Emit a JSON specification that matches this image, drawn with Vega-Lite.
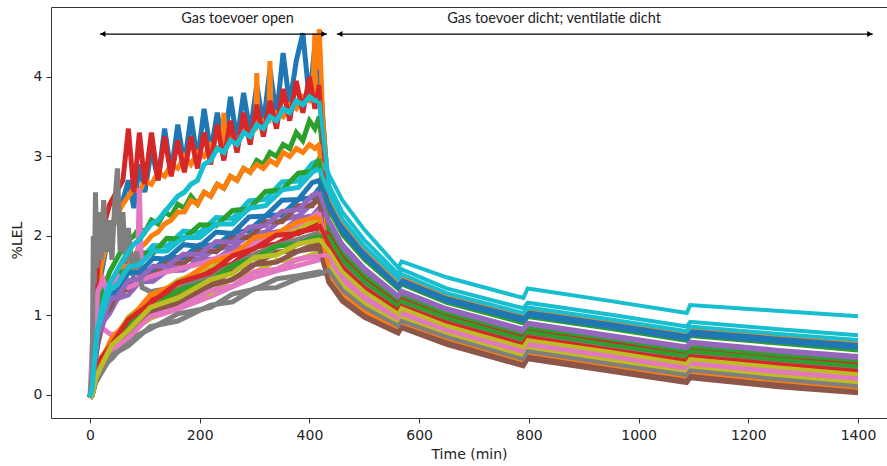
{
"$schema":"https://vega.github.io/schema/vega-lite/v6.json",
"width":836,"height":411,
"autosize":{"type":"none"},
"padding":{"left":51,"top":7,"right":0,"bottom":48},
"config":{"view":{"stroke":null},"font":"DejaVu Sans",
"axis":{"grid":false,"domainColor":"#333","domainWidth":1,"tickColor":"#333","tickSize":5,"labelColor":"#222","labelFontSize":14,"titleFontSize":14,"titleFontWeight":"normal","titleColor":"#222","labelFont":"DejaVu Sans","titleFont":"DejaVu Sans"}},
"datasets":{
"lines":[
{"s":0,"t":0,"v":-0.03},{"s":0,"t":4,"v":0.1},{"s":0,"t":8,"v":0.6},{"s":0,"t":14,"v":1.1},{"s":0,"t":20,"v":1.5},{"s":0,"t":28,"v":1.8},{"s":0,"t":36,"v":2.0},{"s":0,"t":44,"v":2.2},{"s":0,"t":52,"v":2.35},{"s":0,"t":60,"v":2.45},{"s":0,"t":70,"v":2.7},{"s":0,"t":80,"v":2.35},{"s":0,"t":90,"v":2.9},{"s":0,"t":100,"v":2.55},{"s":0,"t":112,"v":3.1},{"s":0,"t":124,"v":2.7},{"s":0,"t":136,"v":3.35},{"s":0,"t":148,"v":2.8},{"s":0,"t":160,"v":3.4},{"s":0,"t":172,"v":2.9},{"s":0,"t":184,"v":3.5},{"s":0,"t":196,"v":2.95},{"s":0,"t":208,"v":3.6},{"s":0,"t":220,"v":3.05},{"s":0,"t":232,"v":3.55},{"s":0,"t":244,"v":3.1},{"s":0,"t":256,"v":3.75},{"s":0,"t":268,"v":3.2},{"s":0,"t":280,"v":3.8},{"s":0,"t":292,"v":3.3},{"s":0,"t":304,"v":3.9},{"s":0,"t":316,"v":3.4},{"s":0,"t":328,"v":4.1},{"s":0,"t":340,"v":3.5},{"s":0,"t":352,"v":4.3},{"s":0,"t":364,"v":3.65},{"s":0,"t":376,"v":4.2},{"s":0,"t":388,"v":4.55},{"s":0,"t":400,"v":3.7},{"s":0,"t":410,"v":4.4},{"s":0,"t":418,"v":4.1},
{"s":0,"t":435,"v":2.46},{"s":0,"t":460,"v":2.13},{"s":0,"t":500,"v":1.8},{"s":0,"t":562,"v":1.4},{"s":0,"t":568,"v":1.47},{"s":0,"t":650,"v":1.23},{"s":0,"t":790,"v":0.98},{"s":0,"t":798,"v":1.05},{"s":0,"t":950,"v":0.9},{"s":0,"t":1088,"v":0.75},{"s":0,"t":1094,"v":0.81},{"s":0,"t":1250,"v":0.72},{"s":0,"t":1400,"v":0.64},
{"s":1,"t":0,"v":-0.02},{"s":1,"t":4,"v":0.15},{"s":1,"t":8,"v":0.8},{"s":1,"t":14,"v":1.3},{"s":1,"t":20,"v":1.6},{"s":1,"t":28,"v":1.85},{"s":1,"t":36,"v":2.0},{"s":1,"t":44,"v":2.15},{"s":1,"t":52,"v":2.3},{"s":1,"t":60,"v":2.4},{"s":1,"t":70,"v":2.5},{"s":1,"t":80,"v":2.6},{"s":1,"t":90,"v":2.55},{"s":1,"t":100,"v":2.7},{"s":1,"t":112,"v":2.65},{"s":1,"t":124,"v":2.8},{"s":1,"t":136,"v":2.75},{"s":1,"t":148,"v":2.9},{"s":1,"t":160,"v":2.85},{"s":1,"t":172,"v":3.0},{"s":1,"t":184,"v":2.9},{"s":1,"t":196,"v":3.05},{"s":1,"t":208,"v":3.0},{"s":1,"t":220,"v":3.15},{"s":1,"t":232,"v":3.1},{"s":1,"t":242,"v":3.15},{"s":1,"t":244,"v":3.55},{"s":1,"t":246,"v":3.15},{"s":1,"t":256,"v":3.25},{"s":1,"t":268,"v":3.2},{"s":1,"t":280,"v":3.35},{"s":1,"t":292,"v":3.3},{"s":1,"t":302,"v":3.35},{"s":1,"t":304,"v":4.05},{"s":1,"t":306,"v":3.4},{"s":1,"t":316,"v":3.45},{"s":1,"t":326,"v":3.45},{"s":1,"t":328,"v":4.2},{"s":1,"t":330,"v":3.5},{"s":1,"t":340,"v":3.55},{"s":1,"t":352,"v":3.5},{"s":1,"t":364,"v":3.65},{"s":1,"t":376,"v":3.6},{"s":1,"t":388,"v":3.75},{"s":1,"t":400,"v":3.7},{"s":1,"t":406,"v":3.75},{"s":1,"t":410,"v":4.55},{"s":1,"t":413,"v":3.8},{"s":1,"t":418,"v":4.6},{"s":1,"t":424,"v":3.5},
{"s":1,"t":435,"v":2.52},{"s":1,"t":460,"v":2.19},{"s":1,"t":500,"v":1.85},{"s":1,"t":562,"v":1.44},{"s":1,"t":568,"v":1.5},{"s":1,"t":650,"v":1.27},{"s":1,"t":790,"v":1.02},{"s":1,"t":798,"v":1.09},{"s":1,"t":950,"v":0.94},{"s":1,"t":1088,"v":0.79},{"s":1,"t":1094,"v":0.85},{"s":1,"t":1250,"v":0.76},{"s":1,"t":1400,"v":0.68},
{"s":2,"t":0,"v":-0.02},{"s":2,"t":4,"v":0.1},{"s":2,"t":8,"v":0.5},{"s":2,"t":14,"v":0.9},{"s":2,"t":20,"v":1.2},{"s":2,"t":28,"v":1.4},{"s":2,"t":36,"v":1.55},{"s":2,"t":44,"v":1.65},{"s":2,"t":52,"v":1.75},{"s":2,"t":60,"v":1.85},{"s":2,"t":70,"v":1.95},{"s":2,"t":80,"v":2.0},{"s":2,"t":90,"v":2.1},{"s":2,"t":100,"v":2.05},{"s":2,"t":112,"v":2.2},{"s":2,"t":124,"v":2.15},{"s":2,"t":136,"v":2.3},{"s":2,"t":148,"v":2.25},{"s":2,"t":160,"v":2.4},{"s":2,"t":172,"v":2.35},{"s":2,"t":184,"v":2.5},{"s":2,"t":196,"v":2.4},{"s":2,"t":208,"v":2.55},{"s":2,"t":220,"v":2.5},{"s":2,"t":232,"v":2.65},{"s":2,"t":244,"v":2.6},{"s":2,"t":256,"v":2.75},{"s":2,"t":268,"v":2.7},{"s":2,"t":280,"v":2.85},{"s":2,"t":292,"v":2.8},{"s":2,"t":304,"v":2.95},{"s":2,"t":316,"v":2.9},{"s":2,"t":328,"v":3.05},{"s":2,"t":340,"v":3.0},{"s":2,"t":352,"v":3.15},{"s":2,"t":364,"v":3.1},{"s":2,"t":376,"v":3.3},{"s":2,"t":388,"v":3.2},{"s":2,"t":400,"v":3.45},{"s":2,"t":410,"v":3.35},{"s":2,"t":418,"v":3.5},
{"s":2,"t":435,"v":2.33},{"s":2,"t":460,"v":2.01},{"s":2,"t":500,"v":1.7},{"s":2,"t":562,"v":1.33},{"s":2,"t":568,"v":1.39},{"s":2,"t":650,"v":1.16},{"s":2,"t":790,"v":0.9},{"s":2,"t":798,"v":0.98},{"s":2,"t":950,"v":0.83},{"s":2,"t":1088,"v":0.68},{"s":2,"t":1094,"v":0.74},{"s":2,"t":1250,"v":0.65},{"s":2,"t":1400,"v":0.56},
{"s":3,"t":0,"v":-0.03},{"s":3,"t":4,"v":0.2},{"s":3,"t":8,"v":1.0},{"s":3,"t":14,"v":1.6},{"s":3,"t":20,"v":2.0},{"s":3,"t":28,"v":2.2},{"s":3,"t":36,"v":2.4},{"s":3,"t":44,"v":2.5},{"s":3,"t":52,"v":2.6},{"s":3,"t":60,"v":2.7},{"s":3,"t":70,"v":3.35},{"s":3,"t":80,"v":2.55},{"s":3,"t":90,"v":3.3},{"s":3,"t":100,"v":2.65},{"s":3,"t":112,"v":3.3},{"s":3,"t":124,"v":2.7},{"s":3,"t":136,"v":3.25},{"s":3,"t":148,"v":2.75},{"s":3,"t":160,"v":3.2},{"s":3,"t":172,"v":2.8},{"s":3,"t":184,"v":3.25},{"s":3,"t":196,"v":2.85},{"s":3,"t":208,"v":3.3},{"s":3,"t":220,"v":2.9},{"s":3,"t":232,"v":3.4},{"s":3,"t":244,"v":2.95},{"s":3,"t":256,"v":3.45},{"s":3,"t":268,"v":3.05},{"s":3,"t":280,"v":3.55},{"s":3,"t":292,"v":3.15},{"s":3,"t":304,"v":3.65},{"s":3,"t":316,"v":3.25},{"s":3,"t":328,"v":3.7},{"s":3,"t":340,"v":3.35},{"s":3,"t":352,"v":3.85},{"s":3,"t":364,"v":3.45},{"s":3,"t":376,"v":3.95},{"s":3,"t":388,"v":3.55},{"s":3,"t":400,"v":4.0},{"s":3,"t":410,"v":3.6},{"s":3,"t":418,"v":3.9},
{"s":3,"t":435,"v":1.95},{"s":3,"t":460,"v":1.67},{"s":3,"t":500,"v":1.4},{"s":3,"t":562,"v":1.1},{"s":3,"t":568,"v":1.16},{"s":3,"t":650,"v":0.94},{"s":3,"t":790,"v":0.68},{"s":3,"t":798,"v":0.76},{"s":3,"t":950,"v":0.61},{"s":3,"t":1088,"v":0.46},{"s":3,"t":1094,"v":0.52},{"s":3,"t":1250,"v":0.42},{"s":3,"t":1400,"v":0.34},
{"s":4,"t":0,"v":-0.03},{"s":4,"t":4,"v":0.07},{"s":4,"t":8,"v":0.37},{"s":4,"t":14,"v":0.72},{"s":4,"t":24,"v":0.9},{"s":4,"t":36,"v":1.13},{"s":4,"t":50,"v":1.2},{"s":4,"t":70,"v":1.38},{"s":4,"t":90,"v":1.42},{"s":4,"t":115,"v":1.55},{"s":4,"t":140,"v":1.56},{"s":4,"t":170,"v":1.7},{"s":4,"t":200,"v":1.71},{"s":4,"t":230,"v":1.84},{"s":4,"t":260,"v":1.86},{"s":4,"t":290,"v":2.01},{"s":4,"t":320,"v":2.05},{"s":4,"t":350,"v":2.21},{"s":4,"t":380,"v":2.25},{"s":4,"t":405,"v":2.41},{"s":4,"t":418,"v":2.45},
{"s":4,"t":435,"v":2.14},{"s":4,"t":460,"v":1.84},{"s":4,"t":500,"v":1.55},{"s":4,"t":562,"v":1.21},{"s":4,"t":568,"v":1.28},{"s":4,"t":650,"v":1.05},{"s":4,"t":790,"v":0.79},{"s":4,"t":798,"v":0.87},{"s":4,"t":950,"v":0.72},{"s":4,"t":1088,"v":0.57},{"s":4,"t":1094,"v":0.63},{"s":4,"t":1250,"v":0.53},{"s":4,"t":1400,"v":0.45},
{"s":5,"t":0,"v":-0.04},{"s":5,"t":4,"v":0},{"s":5,"t":10,"v":0.19},{"s":5,"t":20,"v":0.41},{"s":5,"t":40,"v":0.57},{"s":5,"t":70,"v":0.86},{"s":5,"t":110,"v":1.03},{"s":5,"t":160,"v":1.26},{"s":5,"t":220,"v":1.37},{"s":5,"t":260,"v":1.57},{"s":5,"t":300,"v":1.64},{"s":5,"t":340,"v":1.8},{"s":5,"t":380,"v":1.81},{"s":5,"t":418,"v":1.92},
{"s":5,"t":435,"v":1.48},{"s":5,"t":460,"v":1.24},{"s":5,"t":500,"v":1.03},{"s":5,"t":562,"v":0.81},{"s":5,"t":568,"v":0.88},{"s":5,"t":650,"v":0.68},{"s":5,"t":790,"v":0.4},{"s":5,"t":798,"v":0.5},{"s":5,"t":950,"v":0.34},{"s":5,"t":1088,"v":0.2},{"s":5,"t":1094,"v":0.26},{"s":5,"t":1250,"v":0.15},{"s":5,"t":1400,"v":0.06},
{"s":6,"t":0,"v":-0.03},{"s":6,"t":4,"v":0.6},{"s":6,"t":10,"v":1.1},{"s":6,"t":20,"v":0.85},{"s":6,"t":40,"v":0.75},{"s":6,"t":70,"v":0.85},{"s":6,"t":110,"v":0.97},{"s":6,"t":160,"v":1.08},{"s":6,"t":220,"v":1.24},{"s":6,"t":260,"v":1.36},{"s":6,"t":300,"v":1.48},{"s":6,"t":340,"v":1.56},{"s":6,"t":380,"v":1.63},{"s":6,"t":418,"v":1.7},
{"s":6,"t":435,"v":1.7},{"s":6,"t":460,"v":1.44},{"s":6,"t":500,"v":1.2},{"s":6,"t":562,"v":0.94},{"s":6,"t":568,"v":1.01},{"s":6,"t":650,"v":0.8},{"s":6,"t":790,"v":0.53},{"s":6,"t":798,"v":0.62},{"s":6,"t":950,"v":0.46},{"s":6,"t":1088,"v":0.32},{"s":6,"t":1094,"v":0.38},{"s":6,"t":1250,"v":0.28},{"s":6,"t":1400,"v":0.19},
{"s":7,"t":0,"v":-0.03},{"s":7,"t":4,"v":0},{"s":7,"t":10,"v":0.16},{"s":7,"t":20,"v":0.34},{"s":7,"t":40,"v":0.46},{"s":7,"t":70,"v":0.7},{"s":7,"t":110,"v":0.83},{"s":7,"t":160,"v":1.02},{"s":7,"t":220,"v":1.1},{"s":7,"t":260,"v":1.27},{"s":7,"t":300,"v":1.33},{"s":7,"t":340,"v":1.46},{"s":7,"t":380,"v":1.5},{"s":7,"t":418,"v":1.55},
{"s":7,"t":435,"v":1.51},{"s":7,"t":460,"v":1.27},{"s":7,"t":500,"v":1.05},{"s":7,"t":562,"v":0.83},{"s":7,"t":568,"v":0.9},{"s":7,"t":650,"v":0.69},{"s":7,"t":790,"v":0.42},{"s":7,"t":798,"v":0.51},{"s":7,"t":950,"v":0.35},{"s":7,"t":1088,"v":0.21},{"s":7,"t":1094,"v":0.27},{"s":7,"t":1250,"v":0.16},{"s":7,"t":1400,"v":0.08},
{"s":8,"t":0,"v":-0.04},{"s":8,"t":4,"v":0},{"s":8,"t":10,"v":0.22},{"s":8,"t":20,"v":0.47},{"s":8,"t":40,"v":0.66},{"s":8,"t":70,"v":0.98},{"s":8,"t":110,"v":1.19},{"s":8,"t":160,"v":1.44},{"s":8,"t":220,"v":1.59},{"s":8,"t":260,"v":1.79},{"s":8,"t":300,"v":1.89},{"s":8,"t":340,"v":2.05},{"s":8,"t":380,"v":2.09},{"s":8,"t":418,"v":2.2},
{"s":8,"t":435,"v":1.86},{"s":8,"t":460,"v":1.59},{"s":8,"t":500,"v":1.33},{"s":8,"t":562,"v":1.04},{"s":8,"t":568,"v":1.11},{"s":8,"t":650,"v":0.89},{"s":8,"t":790,"v":0.63},{"s":8,"t":798,"v":0.71},{"s":8,"t":950,"v":0.56},{"s":8,"t":1088,"v":0.41},{"s":8,"t":1094,"v":0.47},{"s":8,"t":1250,"v":0.37},{"s":8,"t":1400,"v":0.29},
{"s":9,"t":0,"v":-0.03},{"s":9,"t":4,"v":0.09},{"s":9,"t":8,"v":0.44},{"s":9,"t":14,"v":0.88},{"s":9,"t":24,"v":1.07},{"s":9,"t":36,"v":1.38},{"s":9,"t":50,"v":1.43},{"s":9,"t":70,"v":1.67},{"s":9,"t":90,"v":1.69},{"s":9,"t":115,"v":1.88},{"s":9,"t":140,"v":1.87},{"s":9,"t":170,"v":2.06},{"s":9,"t":200,"v":2.04},{"s":9,"t":230,"v":2.23},{"s":9,"t":260,"v":2.22},{"s":9,"t":290,"v":2.44},{"s":9,"t":320,"v":2.46},{"s":9,"t":350,"v":2.68},{"s":9,"t":380,"v":2.69},{"s":9,"t":405,"v":2.91},{"s":9,"t":418,"v":2.95},
{"s":9,"t":435,"v":2.78},{"s":9,"t":460,"v":2.45},{"s":9,"t":500,"v":2.08},{"s":9,"t":562,"v":1.6},{"s":9,"t":568,"v":1.68},{"s":9,"t":650,"v":1.48},{"s":9,"t":790,"v":1.22},{"s":9,"t":798,"v":1.34},{"s":9,"t":950,"v":1.18},{"s":9,"t":1088,"v":1.03},{"s":9,"t":1094,"v":1.13},{"s":9,"t":1250,"v":1.06},{"s":9,"t":1400,"v":0.99},
{"s":10,"t":0,"v":-0.03},{"s":10,"t":4,"v":0.08},{"s":10,"t":8,"v":0.39},{"s":10,"t":14,"v":0.69},{"s":10,"t":24,"v":1.03},{"s":10,"t":36,"v":1.13},{"s":10,"t":50,"v":1.34},{"s":10,"t":70,"v":1.39},{"s":10,"t":90,"v":1.57},{"s":10,"t":115,"v":1.57},{"s":10,"t":140,"v":1.73},{"s":10,"t":170,"v":1.73},{"s":10,"t":200,"v":1.89},{"s":10,"t":230,"v":1.88},{"s":10,"t":260,"v":2.04},{"s":10,"t":290,"v":2.07},{"s":10,"t":320,"v":2.25},{"s":10,"t":350,"v":2.27},{"s":10,"t":380,"v":2.46},{"s":10,"t":405,"v":2.48},{"s":10,"t":418,"v":2.6},
{"s":10,"t":435,"v":2.4},{"s":10,"t":460,"v":2.07},{"s":10,"t":500,"v":1.75},{"s":10,"t":562,"v":1.37},{"s":10,"t":568,"v":1.43},{"s":10,"t":650,"v":1.2},{"s":10,"t":790,"v":0.94},{"s":10,"t":798,"v":1.02},{"s":10,"t":950,"v":0.86},{"s":10,"t":1088,"v":0.72},{"s":10,"t":1094,"v":0.78},{"s":10,"t":1250,"v":0.68},{"s":10,"t":1400,"v":0.6},
{"s":11,"t":0,"v":-0.02},{"s":11,"t":4,"v":0.06},{"s":11,"t":8,"v":0.35},{"s":11,"t":14,"v":0.7},{"s":11,"t":20,"v":0.95},{"s":11,"t":28,"v":1.15},{"s":11,"t":36,"v":1.3},{"s":11,"t":44,"v":1.4},{"s":11,"t":52,"v":1.5},{"s":11,"t":60,"v":1.6},{"s":11,"t":70,"v":1.7},{"s":11,"t":80,"v":1.75},{"s":11,"t":90,"v":1.85},{"s":11,"t":100,"v":1.9},{"s":11,"t":112,"v":2.0},{"s":11,"t":124,"v":2.05},{"s":11,"t":136,"v":2.15},{"s":11,"t":148,"v":2.2},{"s":11,"t":160,"v":2.3},{"s":11,"t":172,"v":2.3},{"s":11,"t":184,"v":2.45},{"s":11,"t":196,"v":2.4},{"s":11,"t":208,"v":2.55},{"s":11,"t":220,"v":2.5},{"s":11,"t":232,"v":2.65},{"s":11,"t":244,"v":2.6},{"s":11,"t":256,"v":2.75},{"s":11,"t":268,"v":2.7},{"s":11,"t":280,"v":2.85},{"s":11,"t":292,"v":2.8},{"s":11,"t":304,"v":2.9},{"s":11,"t":316,"v":2.85},{"s":11,"t":328,"v":2.95},{"s":11,"t":340,"v":2.9},{"s":11,"t":352,"v":3.05},{"s":11,"t":364,"v":3.0},{"s":11,"t":376,"v":3.1},{"s":11,"t":388,"v":3.05},{"s":11,"t":400,"v":3.15},{"s":11,"t":410,"v":3.1},{"s":11,"t":418,"v":3.15},
{"s":11,"t":435,"v":1.57},{"s":11,"t":460,"v":1.32},{"s":11,"t":500,"v":1.1},{"s":11,"t":562,"v":0.87},{"s":11,"t":568,"v":0.93},{"s":11,"t":650,"v":0.73},{"s":11,"t":790,"v":0.45},{"s":11,"t":798,"v":0.55},{"s":11,"t":950,"v":0.39},{"s":11,"t":1088,"v":0.25},{"s":11,"t":1094,"v":0.31},{"s":11,"t":1250,"v":0.2},{"s":11,"t":1400,"v":0.11},
{"s":12,"t":0,"v":-0.03},{"s":12,"t":4,"v":0.09},{"s":12,"t":8,"v":0.44},{"s":12,"t":14,"v":0.78},{"s":12,"t":24,"v":1.17},{"s":12,"t":36,"v":1.28},{"s":12,"t":50,"v":1.53},{"s":12,"t":70,"v":1.57},{"s":12,"t":90,"v":1.79},{"s":12,"t":115,"v":1.78},{"s":12,"t":140,"v":1.97},{"s":12,"t":170,"v":1.96},{"s":12,"t":200,"v":2.14},{"s":12,"t":230,"v":2.13},{"s":12,"t":260,"v":2.32},{"s":12,"t":290,"v":2.34},{"s":12,"t":320,"v":2.56},{"s":12,"t":350,"v":2.58},{"s":12,"t":380,"v":2.79},{"s":12,"t":405,"v":2.81},{"s":12,"t":418,"v":2.97},
{"s":12,"t":435,"v":2.08},{"s":12,"t":460,"v":1.78},{"s":12,"t":500,"v":1.5},{"s":12,"t":562,"v":1.17},{"s":12,"t":568,"v":1.24},{"s":12,"t":650,"v":1.02},{"s":12,"t":790,"v":0.75},{"s":12,"t":798,"v":0.84},{"s":12,"t":950,"v":0.68},{"s":12,"t":1088,"v":0.54},{"s":12,"t":1094,"v":0.6},{"s":12,"t":1250,"v":0.5},{"s":12,"t":1400,"v":0.41},
{"s":13,"t":0,"v":-0.04},{"s":13,"t":4,"v":0},{"s":13,"t":10,"v":0.21},{"s":13,"t":20,"v":0.39},{"s":13,"t":40,"v":0.68},{"s":13,"t":70,"v":0.87},{"s":13,"t":110,"v":1.19},{"s":13,"t":160,"v":1.31},{"s":13,"t":220,"v":1.56},{"s":13,"t":260,"v":1.65},{"s":13,"t":300,"v":1.86},{"s":13,"t":340,"v":1.9},{"s":13,"t":380,"v":2.05},{"s":13,"t":418,"v":2.1},
{"s":13,"t":435,"v":2.02},{"s":13,"t":460,"v":1.73},{"s":13,"t":500,"v":1.45},{"s":13,"t":562,"v":1.14},{"s":13,"t":568,"v":1.2},{"s":13,"t":650,"v":0.98},{"s":13,"t":790,"v":0.72},{"s":13,"t":798,"v":0.8},{"s":13,"t":950,"v":0.65},{"s":13,"t":1088,"v":0.5},{"s":13,"t":1094,"v":0.56},{"s":13,"t":1250,"v":0.46},{"s":13,"t":1400,"v":0.38},
{"s":14,"t":0,"v":-0.03},{"s":14,"t":4,"v":0.07},{"s":14,"t":8,"v":0.35},{"s":14,"t":14,"v":0.63},{"s":14,"t":24,"v":0.92},{"s":14,"t":36,"v":1.03},{"s":14,"t":50,"v":1.21},{"s":14,"t":70,"v":1.26},{"s":14,"t":90,"v":1.42},{"s":14,"t":115,"v":1.43},{"s":14,"t":140,"v":1.56},{"s":14,"t":170,"v":1.57},{"s":14,"t":200,"v":1.7},{"s":14,"t":230,"v":1.71},{"s":14,"t":260,"v":1.84},{"s":14,"t":290,"v":1.87},{"s":14,"t":320,"v":2.03},{"s":14,"t":350,"v":2.06},{"s":14,"t":380,"v":2.22},{"s":14,"t":405,"v":2.25},{"s":14,"t":418,"v":2.35},
{"s":14,"t":435,"v":2.21},{"s":14,"t":460,"v":1.9},{"s":14,"t":500,"v":1.6},{"s":14,"t":562,"v":1.25},{"s":14,"t":568,"v":1.31},{"s":14,"t":650,"v":1.09},{"s":14,"t":790,"v":0.83},{"s":14,"t":798,"v":0.91},{"s":14,"t":950,"v":0.75},{"s":14,"t":1088,"v":0.61},{"s":14,"t":1094,"v":0.67},{"s":14,"t":1250,"v":0.57},{"s":14,"t":1400,"v":0.49},
{"s":15,"t":0,"v":-0.03},{"s":15,"t":4,"v":0.07},{"s":15,"t":8,"v":0.38},{"s":15,"t":14,"v":0.65},{"s":15,"t":24,"v":1.0},{"s":15,"t":36,"v":1.08},{"s":15,"t":50,"v":1.3},{"s":15,"t":70,"v":1.33},{"s":15,"t":90,"v":1.53},{"s":15,"t":115,"v":1.5},{"s":15,"t":140,"v":1.68},{"s":15,"t":170,"v":1.65},{"s":15,"t":200,"v":1.83},{"s":15,"t":230,"v":1.8},{"s":15,"t":260,"v":1.98},{"s":15,"t":290,"v":1.98},{"s":15,"t":320,"v":2.18},{"s":15,"t":350,"v":2.18},{"s":15,"t":380,"v":2.38},{"s":15,"t":405,"v":2.38},{"s":15,"t":418,"v":2.5},
{"s":15,"t":435,"v":1.41},{"s":15,"t":460,"v":1.17},{"s":15,"t":500,"v":0.97},{"s":15,"t":562,"v":0.77},{"s":15,"t":568,"v":0.84},{"s":15,"t":650,"v":0.63},{"s":15,"t":790,"v":0.36},{"s":15,"t":798,"v":0.45},{"s":15,"t":950,"v":0.29},{"s":15,"t":1088,"v":0.15},{"s":15,"t":1094,"v":0.21},{"s":15,"t":1250,"v":0.1},{"s":15,"t":1400,"v":0.02},
{"s":16,"t":0,"v":-0.03},{"s":16,"t":4,"v":0.1},{"s":16,"t":8,"v":0.6},{"s":16,"t":14,"v":1.3},{"s":16,"t":24,"v":1.45},{"s":16,"t":36,"v":1.2},{"s":16,"t":50,"v":1.5},{"s":16,"t":70,"v":1.35},{"s":16,"t":86,"v":1.4},{"s":16,"t":90,"v":2.6},{"s":16,"t":94,"v":1.45},{"s":16,"t":115,"v":1.5},{"s":16,"t":140,"v":1.55},{"s":16,"t":170,"v":1.6},{"s":16,"t":200,"v":1.65},{"s":16,"t":230,"v":1.72},{"s":16,"t":260,"v":1.78},{"s":16,"t":290,"v":1.88},{"s":16,"t":320,"v":1.97},{"s":16,"t":350,"v":2.06},{"s":16,"t":380,"v":2.15},{"s":16,"t":405,"v":2.24},{"s":16,"t":418,"v":2.3},
{"s":16,"t":435,"v":1.74},{"s":16,"t":460,"v":1.47},{"s":16,"t":500,"v":1.23},{"s":16,"t":562,"v":0.97},{"s":16,"t":568,"v":1.03},{"s":16,"t":650,"v":0.82},{"s":16,"t":790,"v":0.55},{"s":16,"t":798,"v":0.64},{"s":16,"t":950,"v":0.48},{"s":16,"t":1088,"v":0.34},{"s":16,"t":1094,"v":0.4},{"s":16,"t":1250,"v":0.3},{"s":16,"t":1400,"v":0.21},
{"s":17,"t":0,"v":-0.03},{"s":17,"t":4,"v":0.3},{"s":17,"t":6,"v":2.0},{"s":17,"t":8,"v":1.4},{"s":17,"t":10,"v":2.55},{"s":17,"t":13,"v":1.6},{"s":17,"t":16,"v":2.3},{"s":17,"t":20,"v":1.7},{"s":17,"t":25,"v":2.45},{"s":17,"t":30,"v":1.8},{"s":17,"t":35,"v":2.2},{"s":17,"t":40,"v":1.7},{"s":17,"t":45,"v":2.4},{"s":17,"t":50,"v":2.85},{"s":17,"t":55,"v":1.8},{"s":17,"t":60,"v":2.3},{"s":17,"t":65,"v":1.65},{"s":17,"t":70,"v":2.1},{"s":17,"t":78,"v":1.5},{"s":17,"t":85,"v":1.8},{"s":17,"t":95,"v":1.35},{"s":17,"t":110,"v":1.3},{"s":17,"t":160,"v":1.36},{"s":17,"t":220,"v":1.5},{"s":17,"t":260,"v":1.63},{"s":17,"t":300,"v":1.77},{"s":17,"t":340,"v":1.88},{"s":17,"t":380,"v":1.96},{"s":17,"t":418,"v":2.04},
{"s":17,"t":435,"v":1.91},{"s":17,"t":460,"v":1.63},{"s":17,"t":500,"v":1.37},{"s":17,"t":562,"v":1.07},{"s":17,"t":568,"v":1.14},{"s":17,"t":650,"v":0.92},{"s":17,"t":790,"v":0.66},{"s":17,"t":798,"v":0.74},{"s":17,"t":950,"v":0.59},{"s":17,"t":1088,"v":0.44},{"s":17,"t":1094,"v":0.5},{"s":17,"t":1250,"v":0.4},{"s":17,"t":1400,"v":0.32},
{"s":18,"t":0,"v":-0.04},{"s":18,"t":4,"v":0},{"s":18,"t":10,"v":0.18},{"s":18,"t":20,"v":0.39},{"s":18,"t":40,"v":0.53},{"s":18,"t":70,"v":0.8},{"s":18,"t":110,"v":0.96},{"s":18,"t":160,"v":1.18},{"s":18,"t":220,"v":1.28},{"s":18,"t":260,"v":1.47},{"s":18,"t":300,"v":1.54},{"s":18,"t":340,"v":1.69},{"s":18,"t":380,"v":1.7},{"s":18,"t":418,"v":1.8},
{"s":18,"t":435,"v":1.63},{"s":18,"t":460,"v":1.38},{"s":18,"t":500,"v":1.15},{"s":18,"t":562,"v":0.9},{"s":18,"t":568,"v":0.97},{"s":18,"t":650,"v":0.76},{"s":18,"t":790,"v":0.49},{"s":18,"t":798,"v":0.58},{"s":18,"t":950,"v":0.43},{"s":18,"t":1088,"v":0.28},{"s":18,"t":1094,"v":0.34},{"s":18,"t":1250,"v":0.24},{"s":18,"t":1400,"v":0.15},
{"s":19,"t":0,"v":-0.02},{"s":19,"t":4,"v":0.08},{"s":19,"t":8,"v":0.4},{"s":19,"t":14,"v":0.8},{"s":19,"t":20,"v":1.05},{"s":19,"t":28,"v":1.25},{"s":19,"t":36,"v":1.4},{"s":19,"t":44,"v":1.5},{"s":19,"t":52,"v":1.6},{"s":19,"t":60,"v":1.7},{"s":19,"t":70,"v":1.8},{"s":19,"t":80,"v":1.9},{"s":19,"t":90,"v":1.95},{"s":19,"t":100,"v":2.05},{"s":19,"t":112,"v":2.15},{"s":19,"t":124,"v":2.2},{"s":19,"t":136,"v":2.3},{"s":19,"t":148,"v":2.4},{"s":19,"t":160,"v":2.5},{"s":19,"t":172,"v":2.55},{"s":19,"t":184,"v":2.65},{"s":19,"t":196,"v":2.7},{"s":19,"t":208,"v":2.9},{"s":19,"t":220,"v":2.95},{"s":19,"t":232,"v":3.1},{"s":19,"t":244,"v":3.05},{"s":19,"t":256,"v":3.2},{"s":19,"t":268,"v":3.15},{"s":19,"t":280,"v":3.3},{"s":19,"t":292,"v":3.25},{"s":19,"t":304,"v":3.4},{"s":19,"t":316,"v":3.35},{"s":19,"t":328,"v":3.5},{"s":19,"t":340,"v":3.45},{"s":19,"t":352,"v":3.6},{"s":19,"t":364,"v":3.55},{"s":19,"t":376,"v":3.7},{"s":19,"t":388,"v":3.65},{"s":19,"t":400,"v":3.75},{"s":19,"t":410,"v":3.7},{"s":19,"t":418,"v":3.7},
{"s":19,"t":435,"v":2.65},{"s":19,"t":460,"v":2.3},{"s":19,"t":500,"v":1.95},{"s":19,"t":562,"v":1.52},{"s":19,"t":568,"v":1.58},{"s":19,"t":650,"v":1.34},{"s":19,"t":790,"v":1.09},{"s":19,"t":798,"v":1.16},{"s":19,"t":950,"v":1.01},{"s":19,"t":1088,"v":0.86},{"s":19,"t":1094,"v":0.92},{"s":19,"t":1250,"v":0.83},{"s":19,"t":1400,"v":0.75},
{"s":20,"t":0,"v":-0.03},{"s":20,"t":4,"v":0.08},{"s":20,"t":8,"v":0.41},{"s":20,"t":14,"v":0.8},{"s":20,"t":24,"v":0.99},{"s":20,"t":36,"v":1.27},{"s":20,"t":50,"v":1.3},{"s":20,"t":70,"v":1.54},{"s":20,"t":90,"v":1.54},{"s":20,"t":115,"v":1.72},{"s":20,"t":140,"v":1.71},{"s":20,"t":170,"v":1.89},{"s":20,"t":200,"v":1.87},{"s":20,"t":230,"v":2.05},{"s":20,"t":260,"v":2.03},{"s":20,"t":290,"v":2.24},{"s":20,"t":320,"v":2.25},{"s":20,"t":350,"v":2.45},{"s":20,"t":380,"v":2.46},{"s":20,"t":405,"v":2.67},{"s":20,"t":418,"v":2.7},
{"s":20,"t":435,"v":2.37},{"s":20,"t":460,"v":2.05},{"s":20,"t":500,"v":1.73},{"s":20,"t":562,"v":1.35},{"s":20,"t":568,"v":1.41},{"s":20,"t":650,"v":1.18},{"s":20,"t":790,"v":0.93},{"s":20,"t":798,"v":1.0},{"s":20,"t":950,"v":0.85},{"s":20,"t":1088,"v":0.7},{"s":20,"t":1094,"v":0.76},{"s":20,"t":1250,"v":0.67},{"s":20,"t":1400,"v":0.59},
{"s":21,"t":0,"v":-0.04},{"s":21,"t":4,"v":0},{"s":21,"t":10,"v":0.22},{"s":21,"t":20,"v":0.42},{"s":21,"t":40,"v":0.72},{"s":21,"t":70,"v":0.93},{"s":21,"t":110,"v":1.26},{"s":21,"t":160,"v":1.4},{"s":21,"t":220,"v":1.67},{"s":21,"t":260,"v":1.76},{"s":21,"t":300,"v":1.98},{"s":21,"t":340,"v":2.03},{"s":21,"t":380,"v":2.18},{"s":21,"t":418,"v":2.24},
{"s":21,"t":435,"v":1.51},{"s":21,"t":460,"v":1.27},{"s":21,"t":500,"v":1.05},{"s":21,"t":562,"v":0.83},{"s":21,"t":568,"v":0.9},{"s":21,"t":650,"v":0.69},{"s":21,"t":790,"v":0.42},{"s":21,"t":798,"v":0.51},{"s":21,"t":950,"v":0.35},{"s":21,"t":1088,"v":0.21},{"s":21,"t":1094,"v":0.27},{"s":21,"t":1250,"v":0.16},{"s":21,"t":1400,"v":0.08},
{"s":22,"t":0,"v":-0.04},{"s":22,"t":4,"v":0},{"s":22,"t":10,"v":0.2},{"s":22,"t":20,"v":0.43},{"s":22,"t":40,"v":0.6},{"s":22,"t":70,"v":0.89},{"s":22,"t":110,"v":1.08},{"s":22,"t":160,"v":1.31},{"s":22,"t":220,"v":1.44},{"s":22,"t":260,"v":1.63},{"s":22,"t":300,"v":1.72},{"s":22,"t":340,"v":1.87},{"s":22,"t":380,"v":1.9},{"s":22,"t":418,"v":2.0},
{"s":22,"t":435,"v":1.99},{"s":22,"t":460,"v":1.7},{"s":22,"t":500,"v":1.43},{"s":22,"t":562,"v":1.12},{"s":22,"t":568,"v":1.18},{"s":22,"t":650,"v":0.97},{"s":22,"t":790,"v":0.7},{"s":22,"t":798,"v":0.79},{"s":22,"t":950,"v":0.63},{"s":22,"t":1088,"v":0.49},{"s":22,"t":1094,"v":0.55},{"s":22,"t":1250,"v":0.45},{"s":22,"t":1400,"v":0.36},
{"s":23,"t":0,"v":-0.04},{"s":23,"t":4,"v":0},{"s":23,"t":10,"v":0.22},{"s":23,"t":20,"v":0.46},{"s":23,"t":40,"v":0.64},{"s":23,"t":70,"v":0.95},{"s":23,"t":110,"v":1.15},{"s":23,"t":160,"v":1.41},{"s":23,"t":220,"v":1.54},{"s":23,"t":260,"v":1.75},{"s":23,"t":300,"v":1.84},{"s":23,"t":340,"v":2.01},{"s":23,"t":380,"v":2.03},{"s":23,"t":418,"v":2.15},
{"s":23,"t":435,"v":1.89},{"s":23,"t":460,"v":1.61},{"s":23,"t":500,"v":1.35},{"s":23,"t":562,"v":1.06},{"s":23,"t":568,"v":1.12},{"s":23,"t":650,"v":0.91},{"s":23,"t":790,"v":0.64},{"s":23,"t":798,"v":0.73},{"s":23,"t":950,"v":0.57},{"s":23,"t":1088,"v":0.43},{"s":23,"t":1094,"v":0.49},{"s":23,"t":1250,"v":0.39},{"s":23,"t":1400,"v":0.3},
{"s":24,"t":0,"v":-0.03},{"s":24,"t":4,"v":0.08},{"s":24,"t":8,"v":0.38},{"s":24,"t":14,"v":0.75},{"s":24,"t":24,"v":0.93},{"s":24,"t":36,"v":1.19},{"s":24,"t":50,"v":1.24},{"s":24,"t":70,"v":1.44},{"s":24,"t":90,"v":1.46},{"s":24,"t":115,"v":1.62},{"s":24,"t":140,"v":1.62},{"s":24,"t":170,"v":1.77},{"s":24,"t":200,"v":1.77},{"s":24,"t":230,"v":1.93},{"s":24,"t":260,"v":1.92},{"s":24,"t":290,"v":2.11},{"s":24,"t":320,"v":2.13},{"s":24,"t":350,"v":2.31},{"s":24,"t":380,"v":2.33},{"s":24,"t":405,"v":2.51},{"s":24,"t":418,"v":2.55},
{"s":24,"t":435,"v":2.17},{"s":24,"t":460,"v":1.86},{"s":24,"t":500,"v":1.57},{"s":24,"t":562,"v":1.23},{"s":24,"t":568,"v":1.29},{"s":24,"t":650,"v":1.07},{"s":24,"t":790,"v":0.81},{"s":24,"t":798,"v":0.89},{"s":24,"t":950,"v":0.73},{"s":24,"t":1088,"v":0.59},{"s":24,"t":1094,"v":0.65},{"s":24,"t":1250,"v":0.55},{"s":24,"t":1400,"v":0.47},
{"s":25,"t":0,"v":-0.04},{"s":25,"t":4,"v":0},{"s":25,"t":10,"v":0.19},{"s":25,"t":20,"v":0.34},{"s":25,"t":40,"v":0.6},{"s":25,"t":70,"v":0.77},{"s":25,"t":110,"v":1.05},{"s":25,"t":160,"v":1.15},{"s":25,"t":220,"v":1.38},{"s":25,"t":260,"v":1.45},{"s":25,"t":300,"v":1.64},{"s":25,"t":340,"v":1.67},{"s":25,"t":380,"v":1.81},{"s":25,"t":418,"v":1.85},
{"s":25,"t":435,"v":1.44},{"s":25,"t":460,"v":1.21},{"s":25,"t":500,"v":1.0},{"s":25,"t":562,"v":0.79},{"s":25,"t":568,"v":0.86},{"s":25,"t":650,"v":0.66},{"s":25,"t":790,"v":0.38},{"s":25,"t":798,"v":0.48},{"s":25,"t":950,"v":0.32},{"s":25,"t":1088,"v":0.18},{"s":25,"t":1094,"v":0.24},{"s":25,"t":1250,"v":0.13},{"s":25,"t":1400,"v":0.04},
{"s":26,"t":0,"v":-0.04},{"s":26,"t":4,"v":0},{"s":26,"t":10,"v":0.18},{"s":26,"t":20,"v":0.32},{"s":26,"t":40,"v":0.57},{"s":26,"t":70,"v":0.72},{"s":26,"t":110,"v":0.99},{"s":26,"t":160,"v":1.09},{"s":26,"t":220,"v":1.31},{"s":26,"t":260,"v":1.37},{"s":26,"t":300,"v":1.55},{"s":26,"t":340,"v":1.58},{"s":26,"t":380,"v":1.71},{"s":26,"t":418,"v":1.75},
{"s":26,"t":435,"v":1.76},{"s":26,"t":460,"v":1.5},{"s":26,"t":500,"v":1.25},{"s":26,"t":562,"v":0.98},{"s":26,"t":568,"v":1.05},{"s":26,"t":650,"v":0.84},{"s":26,"t":790,"v":0.57},{"s":26,"t":798,"v":0.66},{"s":26,"t":950,"v":0.5},{"s":26,"t":1088,"v":0.36},{"s":26,"t":1094,"v":0.42},{"s":26,"t":1250,"v":0.31},{"s":26,"t":1400,"v":0.23},
{"s":27,"t":0,"v":-0.03},{"s":27,"t":4,"v":0},{"s":27,"t":10,"v":0.15},{"s":27,"t":20,"v":0.27},{"s":27,"t":40,"v":0.5},{"s":27,"t":70,"v":0.62},{"s":27,"t":110,"v":0.86},{"s":27,"t":160,"v":0.93},{"s":27,"t":220,"v":1.13},{"s":27,"t":260,"v":1.17},{"s":27,"t":300,"v":1.34},{"s":27,"t":340,"v":1.35},{"s":27,"t":380,"v":1.47},{"s":27,"t":418,"v":1.52},
{"s":27,"t":435,"v":1.57},{"s":27,"t":460,"v":1.32},{"s":27,"t":500,"v":1.1},{"s":27,"t":562,"v":0.87},{"s":27,"t":568,"v":0.93},{"s":27,"t":650,"v":0.73},{"s":27,"t":790,"v":0.45},{"s":27,"t":798,"v":0.55},{"s":27,"t":950,"v":0.39},{"s":27,"t":1088,"v":0.25},{"s":27,"t":1094,"v":0.31},{"s":27,"t":1250,"v":0.2},{"s":27,"t":1400,"v":0.11},
{"s":28,"t":0,"v":-0.04},{"s":28,"t":4,"v":0},{"s":28,"t":10,"v":0.2},{"s":28,"t":20,"v":0.36},{"s":28,"t":40,"v":0.63},{"s":28,"t":70,"v":0.81},{"s":28,"t":110,"v":1.1},{"s":28,"t":160,"v":1.22},{"s":28,"t":220,"v":1.45},{"s":28,"t":260,"v":1.53},{"s":28,"t":300,"v":1.73},{"s":28,"t":340,"v":1.76},{"s":28,"t":380,"v":1.9},{"s":28,"t":418,"v":1.95},
{"s":28,"t":435,"v":1.82},{"s":28,"t":460,"v":1.55},{"s":28,"t":500,"v":1.3},{"s":28,"t":562,"v":1.02},{"s":28,"t":568,"v":1.09},{"s":28,"t":650,"v":0.87},{"s":28,"t":790,"v":0.6},{"s":28,"t":798,"v":0.69},{"s":28,"t":950,"v":0.54},{"s":28,"t":1088,"v":0.39},{"s":28,"t":1094,"v":0.45},{"s":28,"t":1250,"v":0.35},{"s":28,"t":1400,"v":0.26},
{"s":29,"t":0,"v":-0.03},{"s":29,"t":4,"v":0.09},{"s":29,"t":8,"v":0.43},{"s":29,"t":14,"v":0.84},{"s":29,"t":24,"v":1.04},{"s":29,"t":36,"v":1.32},{"s":29,"t":50,"v":1.39},{"s":29,"t":70,"v":1.61},{"s":29,"t":90,"v":1.64},{"s":29,"t":115,"v":1.81},{"s":29,"t":140,"v":1.81},{"s":29,"t":170,"v":1.98},{"s":29,"t":200,"v":1.98},{"s":29,"t":230,"v":2.15},{"s":29,"t":260,"v":2.15},{"s":29,"t":290,"v":2.35},{"s":29,"t":320,"v":2.38},{"s":29,"t":350,"v":2.58},{"s":29,"t":380,"v":2.61},{"s":29,"t":405,"v":2.8},{"s":29,"t":418,"v":2.85},
{"s":29,"t":435,"v":2.55},{"s":29,"t":460,"v":2.21},{"s":29,"t":500,"v":1.87},{"s":29,"t":562,"v":1.46},{"s":29,"t":568,"v":1.52},{"s":29,"t":650,"v":1.28},{"s":29,"t":790,"v":1.03},{"s":29,"t":798,"v":1.1},{"s":29,"t":950,"v":0.95},{"s":29,"t":1088,"v":0.8},{"s":29,"t":1094,"v":0.86},{"s":29,"t":1250,"v":0.77},{"s":29,"t":1400,"v":0.69}
],
"arrows":[{"t":18,"t2":432,"v":4.54},{"t":450,"t2":1427,"v":4.54}],
"heads":[{"t":23.5,"v":4.54,"dir":"l"},{"t":426.5,"v":4.54,"dir":"r"},{"t":455.5,"v":4.54,"dir":"l"},{"t":1421.5,"v":4.54,"dir":"r"}],
"notes":[{"t":269,"v":4.73,"label":"Gas toevoer open"},{"t":846,"v":4.73,"label":"Gas toevoer dicht; ventilatie dicht"}]
},
"resolve":{"axis":{"x":"independent"}},
"encoding":{
"y":{"field":"v","type":"quantitative","scale":{"domain":[-0.29,4.88],"nice":false,"zero":false},"axis":{"values":[0,1,2,3,4],"title":"%LEL","labelPadding":4,"titlePadding":9,"titleY":233}}
},
"layer":[
{"data":{"name":"lines"},
"transform":[{"filter":"datum.t <= 435"}],
"mark":{"type":"line","strokeWidth":5,"clip":true},
"encoding":{
"x":{"field":"t","type":"quantitative","scale":{"domain":[-71.1,1452.9],"nice":false,"zero":false},"axis":{"values":[0,200,400,600,800,1000,1200,1400],"format":"d","title":"Time (min)","labelPadding":5,"titlePadding":5}},
"color":{"field":"s","type":"nominal","legend":null,"scale":{"domain":[0,1,2,3,4,5,6,7,8,9,10,11,12,13,14,15,16,17,18,19,20,21,22,23,24,25,26,27,28,29],"range":["#1f77b4","#ff7f0e","#2ca02c","#d62728","#9467bd","#8c564b","#e377c2","#7f7f7f","#bcbd22","#17becf","#1f77b4","#ff7f0e","#2ca02c","#d62728","#9467bd","#8c564b","#e377c2","#7f7f7f","#bcbd22","#17becf","#1f77b4","#ff7f0e","#2ca02c","#d62728","#9467bd","#8c564b","#e377c2","#7f7f7f","#bcbd22","#17becf"]}}
}},
{"data":{"name":"lines"},
"transform":[{"filter":"datum.t >= 418"}],
"mark":{"type":"line","strokeWidth":4,"clip":true},
"encoding":{
"x":{"field":"t","type":"quantitative","axis":null},
"color":{"field":"s","type":"nominal","legend":null}
}},
{"data":{"name":"arrows"},
"mark":{"type":"rule","color":"#000","strokeWidth":1.3},
"encoding":{
"x":{"field":"t","type":"quantitative","axis":{"orient":"top","labels":false,"ticks":false,"title":null,"domain":true}},
"x2":{"field":"t2"}
}},
{"data":{"name":"heads"},
"mark":{"type":"point","filled":true,"color":"#000","size":35,"opacity":1},
"encoding":{
"x":{"field":"t","type":"quantitative","axis":null},
"shape":{"field":"dir","type":"nominal","legend":null,"scale":{"domain":["l","r"],"range":["triangle-left","triangle-right"]}}
}},
{"data":{"name":"notes"},
"mark":{"type":"text","font":"Lato","fontSize":14.5,"color":"#222","align":"center","baseline":"middle"},
"encoding":{
"x":{"field":"t","type":"quantitative","axis":null},
"text":{"field":"label"}
}}
]
}
